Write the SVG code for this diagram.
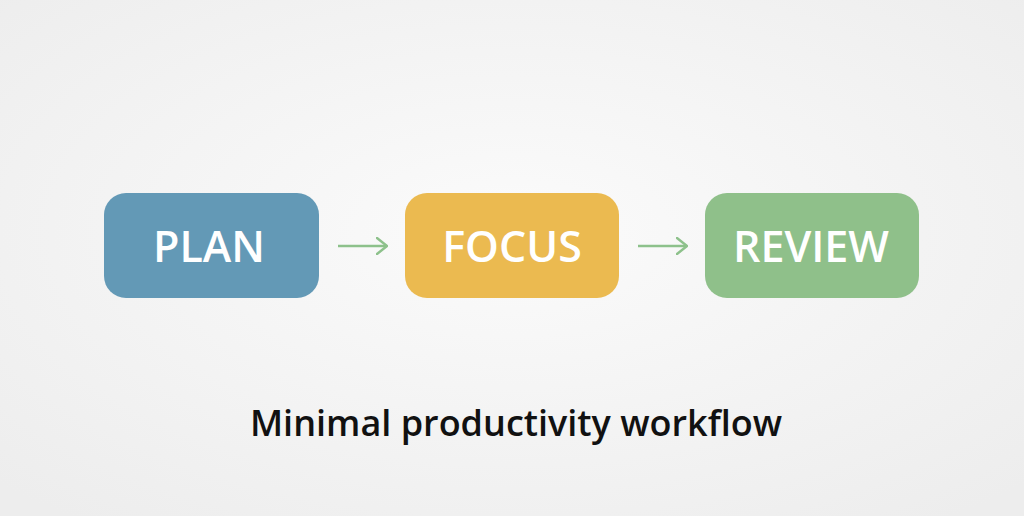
<svg xmlns="http://www.w3.org/2000/svg" width="1024" height="516" viewBox="0 0 1024 516">
<defs>
<radialGradient id="bg" cx="50%" cy="45%" r="70%">
<stop offset="0" stop-color="#fbfbfb"/>
<stop offset="1" stop-color="#ededed"/>
</radialGradient>
<marker id="ah" viewBox="0 0 12 18" refX="11" refY="9" markerWidth="12" markerHeight="18" markerUnits="userSpaceOnUse" orient="auto">
<path d="M1,1 L11,9 L1,17" fill="none" stroke="#8dc18b" stroke-width="2.4" stroke-linecap="round" stroke-linejoin="round"/>
</marker>
<style>
.lbl{font-family:"Open Sans","Liberation Sans",sans-serif;font-weight:600;font-size:43px;fill:#ffffff;text-anchor:middle;dominant-baseline:central;font-variant-ligatures:none}
.conn{stroke:#8dc18b;stroke-width:2.4;fill:none}
.title{font-family:"Open Sans","Liberation Sans",sans-serif;font-weight:600;font-size:36px;fill:#111111;text-anchor:middle;font-variant-ligatures:none}
</style>
</defs>
<rect width="1024" height="516" fill="url(#bg)"/>
<g id="node-plan">
<rect x="104" y="193" width="215" height="105" rx="22" fill="#6399b6"/>
<text class="lbl" x="209" y="245">PLAN</text>
</g>
<g id="node-focus">
<rect x="405" y="193" width="214" height="105" rx="22" fill="#ebba50"/>
<text class="lbl" x="512" y="245">FOCUS</text>
</g>
<g id="node-review">
<rect x="705" y="193" width="214" height="105" rx="22" fill="#8fc08a"/>
<text class="lbl" x="811" y="245">REVIEW</text>
</g>
<g id="connectors">
<line class="conn" x1="338" y1="246" x2="387" y2="246" marker-end="url(#ah)"/>
<line class="conn" x1="638" y1="246" x2="687" y2="246" marker-end="url(#ah)"/>
</g>
<text class="title" x="516" y="436">Minimal productivity workflow</text>
</svg>
